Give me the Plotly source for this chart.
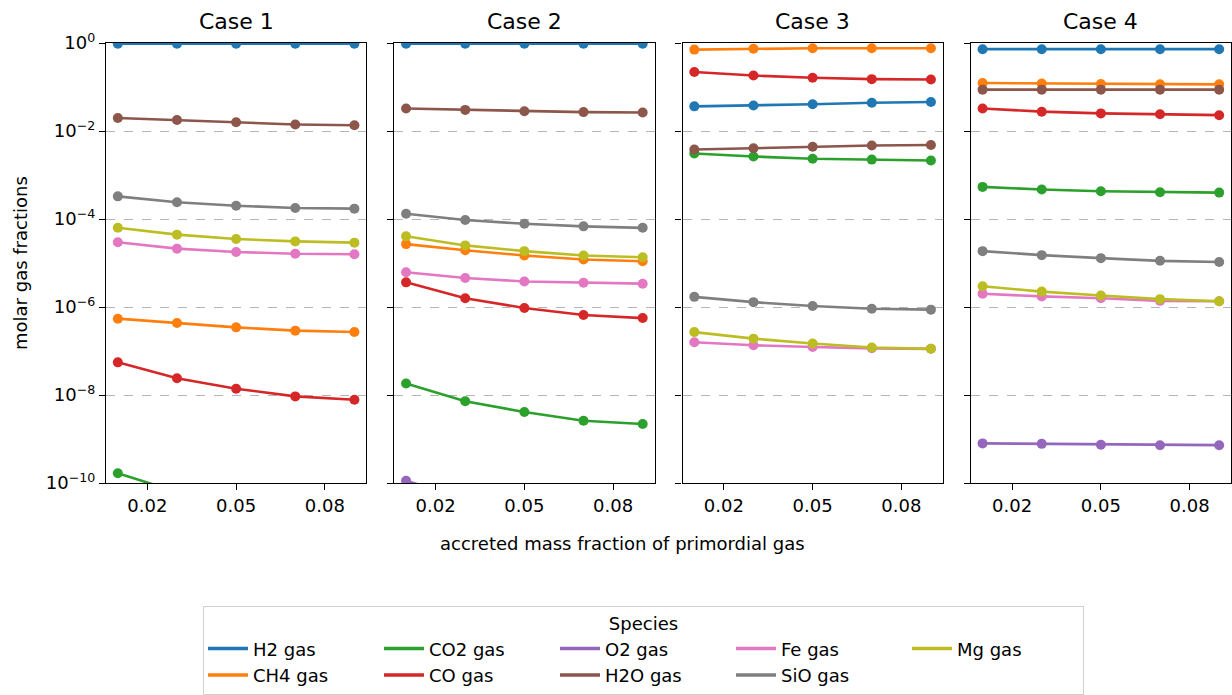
import plotly.graph_objects as go
from plotly.subplots import make_subplots

# ---------------- data ----------------
x_frac = [0.01, 0.03, 0.05, 0.07, 0.09]
cases = ["Case 1", "Case 2", "Case 3", "Case 4"]
species = ["H2 gas", "CH4 gas", "CO2 gas", "CO gas", "O2 gas",
           "H2O gas", "Fe gas", "SiO gas", "Mg gas"]
colors = ["#1f77b4", "#ff7f0e", "#2ca02c", "#d62728", "#9467bd",
          "#8c564b", "#e377c2", "#7f7f7f", "#bcbd22"]

case1 = {
    "H2 gas":  [0.96, 0.96, 0.96, 0.96, 0.96],
    "CH4 gas": [5.43e-7, 4.33e-7, 3.45e-7, 2.90e-7, 2.70e-7],
    "CO2 gas": [1.66e-10, 6.3e-11, 3.2e-11, 2.0e-11, 1.4e-11],
    "CO gas":  [5.52e-8, 2.40e-8, 1.39e-8, 9.3e-9, 7.8e-9],
    "O2 gas":  [2.0e-13, 1.5e-13, 1.2e-13, 1.0e-13, 9.0e-14],
    "H2O gas": [0.0197, 0.0178, 0.0158, 0.0141, 0.0135],
    "Fe gas":  [2.95e-5, 2.12e-5, 1.78e-5, 1.62e-5, 1.58e-5],
    "SiO gas": [3.27e-4, 2.40e-4, 2.00e-4, 1.78e-4, 1.72e-4],
    "Mg gas":  [6.35e-5, 4.41e-5, 3.51e-5, 3.10e-5, 2.90e-5],
}
case2 = {
    "H2 gas":  [0.96, 0.96, 0.96, 0.96, 0.96],
    "CH4 gas": [2.69e-5, 1.95e-5, 1.48e-5, 1.20e-5, 1.10e-5],
    "CO2 gas": [1.82e-8, 7.2e-9, 4.1e-9, 2.6e-9, 2.2e-9],
    "CO gas":  [3.63e-6, 1.58e-6, 9.5e-7, 6.6e-7, 5.6e-7],
    "O2 gas":  [1.12e-10, 4.5e-11, 2.4e-11, 1.5e-11, 1.2e-11],
    "H2O gas": [0.0324, 0.0302, 0.0282, 0.0269, 0.0263],
    "Fe gas":  [6.17e-6, 4.57e-6, 3.80e-6, 3.55e-6, 3.39e-6],
    "SiO gas": [1.32e-4, 9.5e-5, 7.8e-5, 6.8e-5, 6.3e-5],
    "Mg gas":  [4.07e-5, 2.51e-5, 1.86e-5, 1.48e-5, 1.35e-5],
}
case3 = {
    "H2 gas":  [0.0363, 0.0380, 0.0407, 0.0437, 0.0457],
    "CH4 gas": [0.708, 0.741, 0.759, 0.759, 0.759],
    "CO2 gas": [3.09e-3, 2.63e-3, 2.34e-3, 2.24e-3, 2.14e-3],
    "CO gas":  [0.219, 0.182, 0.162, 0.151, 0.148],
    "O2 gas":  [3.0e-14, 2.5e-14, 2.2e-14, 2.0e-14, 1.9e-14],
    "H2O gas": [3.80e-3, 4.07e-3, 4.37e-3, 4.68e-3, 4.79e-3],
    "Fe gas":  [1.58e-7, 1.35e-7, 1.23e-7, 1.15e-7, 1.12e-7],
    "SiO gas": [1.70e-6, 1.29e-6, 1.05e-6, 9.1e-7, 8.7e-7],
    "Mg gas":  [2.69e-7, 1.91e-7, 1.48e-7, 1.20e-7, 1.12e-7],
}
case4 = {
    "H2 gas":  [0.724, 0.724, 0.724, 0.724, 0.724],
    "CH4 gas": [0.123, 0.120, 0.117, 0.115, 0.115],
    "CO2 gas": [5.37e-4, 4.68e-4, 4.27e-4, 4.07e-4, 3.98e-4],
    "CO gas":  [0.0324, 0.0275, 0.0251, 0.0240, 0.0229],
    "O2 gas":  [7.94e-10, 7.76e-10, 7.41e-10, 7.24e-10, 7.24e-10],
    "H2O gas": [0.0871, 0.0871, 0.0871, 0.0871, 0.0871],
    "Fe gas":  [2.00e-6, 1.74e-6, 1.58e-6, 1.38e-6, 1.35e-6],
    "SiO gas": [1.86e-5, 1.51e-5, 1.29e-5, 1.12e-5, 1.05e-5],
    "Mg gas":  [2.95e-6, 2.24e-6, 1.82e-6, 1.51e-6, 1.35e-6],
}
case_data = [case1, case2, case3, case4]

x_tickvals = [0.02, 0.05, 0.08]
x_ticktext = ["0.02", "0.05", "0.08"]
y_tickvals = [1e0, 1e-2, 1e-4, 1e-6, 1e-8, 1e-10]
y_ticktext = ["10<sup>0</sup>", "10<sup>−2</sup>", "10<sup>−4</sup>",
              "10<sup>−6</sup>", "10<sup>−8</sup>", "10<sup>−10</sup>"]
# legend columns (column-major, two rows)
legend_column = {"H2 gas": "c1", "CH4 gas": "c1", "CO2 gas": "c2", "CO gas": "c2",
                 "O2 gas": "c3", "H2O gas": "c3", "Fe gas": "c4", "SiO gas": "c4",
                 "Mg gas": "c5"}

# ---------------- figure ----------------
W, H = 1232, 695
ML, MR, MT, MB = 106, 1, 43, 212
pw = W - ML - MR
ph = H - MT - MB

fig = make_subplots(rows=1, cols=4, shared_yaxes=True,
                    horizontal_spacing=28 / pw)

FONT = "DejaVu Sans"
for ci, data in enumerate(case_data):
    for si, sp in enumerate(species):
        fig.add_trace(go.Scatter(
            x=x_frac, y=data[sp], mode="lines+markers", name=sp,
            line=dict(color=colors[si], width=2.6),
            marker=dict(color=colors[si], size=10),
            showlegend=False, hoverinfo="x+y+name"),
            row=1, col=ci + 1)

# legend-only entries (line sample only)
for si, sp in enumerate(species):
    fig.add_trace(go.Scatter(
        x=[None], y=[None], mode="lines", name=sp,
        line=dict(color=colors[si], width=3.5),
        legendgroup=legend_column[sp],
        showlegend=True), row=1, col=1)

for ci in range(4):
    fig.update_xaxes(
        row=1, col=ci + 1, range=[0.006, 0.094],
        tickvals=x_tickvals, ticktext=x_ticktext,
        ticks="outside", ticklen=6, tickwidth=1.2, tickcolor="black",
        showline=True, linecolor="black", linewidth=1.3, mirror=True,
        showgrid=False, zeroline=False,
        tickfont=dict(family=FONT, size=18, color="black"))
    fig.update_yaxes(
        row=1, col=ci + 1, type="log", range=[-10, 0],
        tickvals=y_tickvals, ticktext=y_ticktext,
        showticklabels=(ci == 0),
        ticks="outside", ticklen=6, tickwidth=1.2, tickcolor="black",
        showline=True, linecolor="black", linewidth=1.3, mirror=True,
        showgrid=True, gridcolor="#b5b5b5", gridwidth=1, griddash="dash",
        zeroline=False,
        tickfont=dict(family=FONT, size=18, color="black"))

# panel titles
for ci, name in enumerate(cases):
    xa = fig.layout["xaxis" if ci == 0 else f"xaxis{ci + 1}"]
    cx = (xa.domain[0] + xa.domain[1]) / 2
    fig.add_annotation(text=name, x=cx, y=1 + 21 / ph, xref="paper", yref="paper",
                       xanchor="center", yanchor="middle", showarrow=False,
                       font=dict(family=FONT, size=22, color="black"))

# axis labels
fig.add_annotation(text="accreted mass fraction of primordial gas",
                   x=(622 - ML) / pw, y=-(543 - (H - MB)) / ph,
                   xref="paper", yref="paper", xanchor="center", yanchor="middle",
                   showarrow=False, font=dict(family=FONT, size=18, color="black"))
fig.add_annotation(text="molar gas fractions", textangle=-90,
                   x=(20 - ML) / pw, y=0.5,
                   xref="paper", yref="paper", xanchor="center", yanchor="middle",
                   showarrow=False, font=dict(family=FONT, size=18, color="black"))

fig.update_layout(
    width=W, height=H,
    margin=dict(l=ML, r=MR, t=MT, b=MB, autoexpand=False),
    paper_bgcolor="white", plot_bgcolor="white",
    font=dict(family=FONT, size=18, color="black"),
    showlegend=True,
    legend=dict(
        orientation="h", x=(203 - ML) / pw, y=-(606 - (H - MB)) / ph,
        xanchor="left", yanchor="top", traceorder="grouped",
        title=dict(text="Species", side="top center",
                   font=dict(family=FONT, size=18, color="black")),
        font=dict(family=FONT, size=18, color="black"),
        bordercolor="#d0d0d0", borderwidth=1, bgcolor="white",
        itemwidth=40, entrywidth=121, entrywidthmode="pixels",
        tracegroupgap=0),
)

fig.write_html("out.html")
